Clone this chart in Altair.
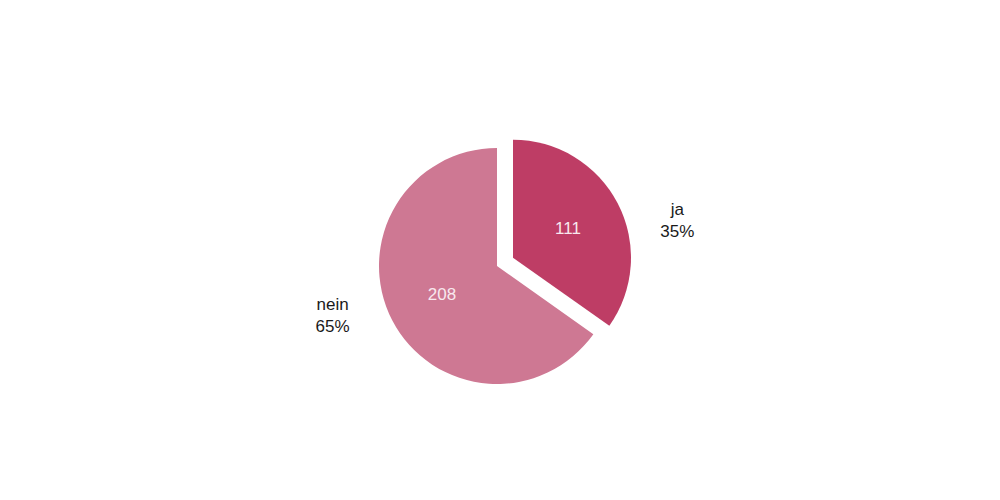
import altair as alt
import pandas as pd

categories = ["ja", "nein"]
counts = [111, 208]
percent_labels = ["35%", "65%"]
slice_colors = ["#BE3D65", "#CE7893"]

df = pd.DataFrame({
    "cat": categories,
    "count": counts,
    "pct": percent_labels,
    "order": list(range(len(categories))),
})

base = (
    alt.Chart(df)
    .transform_joinaggregate(total="sum(count)")
    .transform_window(cum="sum(count)", sort=[alt.SortField("order")], frame=[None, 0])
    .transform_calculate(
        t0="(datum.cum - datum.count) / datum.total * 2 * PI",
        t1="datum.cum / datum.total * 2 * PI",
        mid="(datum.t0 + datum.t1) / 2",
        ex="datum.cat == 'ja' ? 18 : 0",
        cx="489 + datum.ex * sin(datum.mid)",
        cy="258 - datum.ex * cos(datum.mid)",
        label="datum.cat + '\\n' + datum.pct",
    )
)

pos = dict(
    x=alt.X("cx:Q", scale=None, axis=None),
    y=alt.Y("cy:Q", scale=None, axis=None),
)

arcs = base.mark_arc(outerRadius=118).encode(
    theta=alt.Theta("t0:Q", scale=None),
    theta2="t1:Q",
    color=alt.Color("cat:N", scale=alt.Scale(domain=categories, range=slice_colors), legend=None),
    **pos,
)

inner = base.mark_text(
    radius=62, fontSize=17, font="Arial, Liberation Sans", fill="#F8E8EE",
    align="center", baseline="middle",
).encode(
    theta=alt.Theta("mid:Q", scale=None),
    text="count:Q",
    **pos,
)

outer = base.mark_text(
    radius=170, thetaOffset=0.22, fontSize=17, font="Arial, Liberation Sans", fill="#1a1a1a",
    align="center", baseline="middle", lineBreak="\n", lineHeight=22, dy=-4,
).encode(
    theta=alt.Theta("mid:Q", scale=None),
    text="label:N",
    **pos,
)

chart = (
    alt.layer(arcs, inner, outer)
    .properties(width=984, height=484, padding=0, autosize="none")
    .configure_view(stroke=None)
)

chart.save("out.html", embed_options={"renderer": "svg", "actions": False})
